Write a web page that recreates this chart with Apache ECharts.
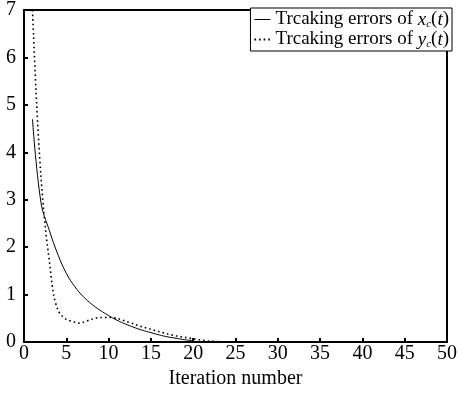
<!DOCTYPE html>
<html>
<head>
<meta charset="utf-8">
<script src="https://cdn.jsdelivr.net/npm/echarts@6/dist/echarts.min.js"></script>
<style>
  html, body { margin: 0; padding: 0; background: #fff; }
  #chart { width: 460px; height: 394px; }
</style>
</head>
<body>
<div id="chart"></div>
<script>
var xTicks = [0, 5, 10, 15, 20, 25, 30, 35, 40, 45, 50]
var yTicks = [0, 1, 2, 3, 4, 5, 6, 7]

// tracking error of x_c(t)
var xcIter = [1, 2, 3, 4, 5, 6, 7, 8, 9, 10, 11, 12, 13, 14, 15, 16, 17, 18, 19, 20]
var xcErr = [4.7, 2.95, 2.35, 1.85, 1.45, 1.17, 0.96, 0.8, 0.67, 0.56, 0.46, 0.38, 0.31, 0.25, 0.2, 0.15, 0.11, 0.08, 0.05, 0.03]

// tracking error of y_c(t)
var ycIter = [1, 1.5, 2, 2.5, 3, 3.5, 4, 4.5, 5, 6, 6.5, 7, 8, 9, 10, 11, 12, 13, 14, 15, 16, 17, 18, 19, 20, 21, 22, 23]
var ycErr = [7.0, 5.0, 3.5, 2.45, 1.7, 1.0, 0.68, 0.55, 0.48, 0.42, 0.4, 0.42, 0.48, 0.52, 0.52, 0.5, 0.44, 0.38, 0.32, 0.27, 0.22, 0.17, 0.13, 0.1, 0.07, 0.04, 0.02, 0.01]

function pairs(xs, ys) {
  return xs.map(function (x, i) { return [x, ys[i]] })
}

var font = '"Liberation Serif", "Times New Roman", serif'

var chart = echarts.init(document.getElementById('chart'))
chart.setOption({
  animation: false,
  grid: {
    left: 24, right: 7, top: 7, bottom: 48,
    show: true, borderColor: '#000', borderWidth: 2, backgroundColor: 'transparent'
  },
  legend: {
    orient: 'vertical',
    right: 8, top: 8,
    backgroundColor: '#fff',
    borderColor: '#000', borderWidth: 1, borderRadius: 0,
    padding: [2, 3, 1, 3],
    itemGap: 0,
    itemWidth: 16, itemHeight: 10,
    itemStyle: { opacity: 0 },
    textStyle: {
      fontFamily: font, fontSize: 19, color: '#000',
      rich: {
        n: { fontFamily: font, fontSize: 19, color: '#000' },
        i: { fontFamily: font, fontSize: 19, fontStyle: 'italic', color: '#000' },
        s: { fontFamily: font, fontSize: 11, fontStyle: 'italic', color: '#000', padding: [10, 0, 0, 0] }
      }
    },
    formatter: function (name) {
      var v = name === 'xc' ? 'x' : 'y'
      return '{n|Trcaking errors of }{i|' + v + '}{s|c}{n|(}{i|t}{n|)}'
    },
    data: [
      { name: 'xc', lineStyle: { width: 1 } },
      { name: 'yc' }
    ]
  },
  xAxis: {
    type: 'value',
    min: 0, max: 50, interval: 5,
    name: 'Iteration number',
    nameLocation: 'middle', nameGap: 25,
    nameTextStyle: { fontFamily: font, fontSize: 20, color: '#000' },
    axisLine: { lineStyle: { color: '#000', width: 2 } },
    axisTick: { inside: true, length: 4, lineStyle: { color: '#000', width: 2 } },
    axisLabel: { fontFamily: font, fontSize: 20, color: '#000', margin: 2,
      formatter: function (v) { return xTicks.indexOf(v) >= 0 ? String(v) : '' } },
    splitLine: { show: false }
  },
  yAxis: {
    type: 'value',
    min: 0, max: 7, interval: 1,
    axisLine: { show: true, lineStyle: { color: '#000', width: 2 } },
    axisTick: { show: true, inside: true, length: 4, lineStyle: { color: '#000', width: 2 } },
    axisLabel: { fontFamily: font, fontSize: 20, color: '#000', margin: 8,
      formatter: function (v) { return yTicks.indexOf(v) >= 0 ? String(v) : '' } },
    splitLine: { show: false }
  },
  series: [{
    name: 'xc',
    type: 'line',
    symbol: 'none',
    smooth: 0.4,
    lineStyle: { color: '#000', width: 1 },
    itemStyle: { color: '#000' },
    data: pairs(xcIter, xcErr)
  }, {
    name: 'yc',
    type: 'line',
    symbol: 'none',
    smooth: 0.3,
    lineStyle: { color: '#000', width: 1.6, type: [1.6, 3] },
    itemStyle: { color: '#000' },
    data: pairs(ycIter, ycErr)
  }]
})
</script>
</body>
</html>
